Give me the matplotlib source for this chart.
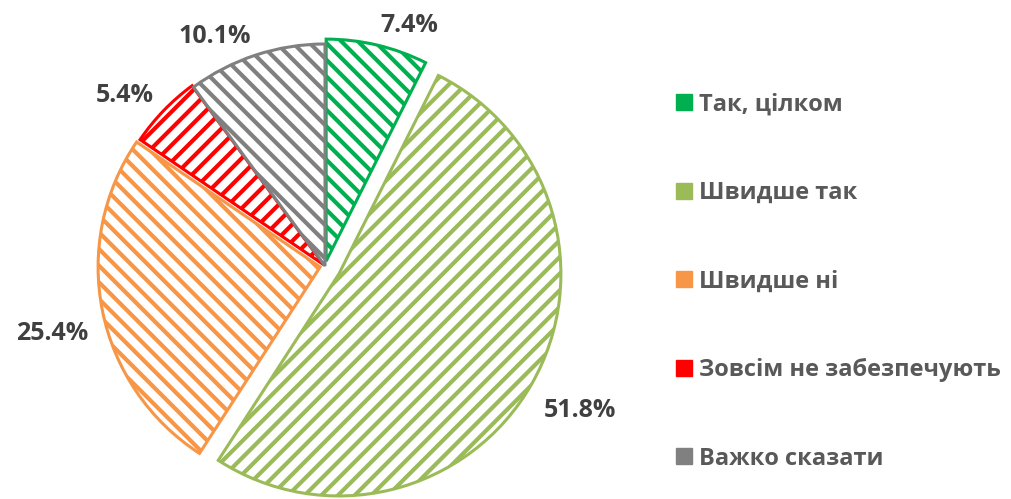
import numpy as np
import matplotlib
matplotlib.use("Agg")
import matplotlib.pyplot as plt

plt.rcParams["font.family"] = ["Open Sans", "DejaVu Sans"]
plt.rcParams["hatch.linewidth"] = 3.0

labels = ["Так, цілком", "Швидше так", "Швидше ні", "Зовсім не забезпечують", "Важко сказати"]
values = [7.4, 51.8, 25.4, 5.4, 10.1]
colors = ["#00B050", "#9BBB59", "#F79646", "#FF0000", "#808080"]
hatches = ["\\\\", "//", "\\\\", "//", "\\\\"]
explode_px = [5, 16, 5, 2, 0]

R = 222
C = (325, 233)

fig = plt.figure(figsize=(10.11, 4.99), dpi=100)
ax = fig.add_axes([0, 0, 1, 1])

wedges, _ = ax.pie(
    values, colors=colors, startangle=90, counterclock=False,
    center=C, radius=R, explode=explode_px, frame=True,
)
ax.set_xlim(0, 1011)
ax.set_ylim(0, 499)
ax.axis("off")

for w, c, h in zip(wedges, colors, hatches):
    w.set_facecolor("white")
    w.set_edgecolor(c)
    w.set_hatch(h)
    w.set_linewidth(2.2)

# percentage labels outside the arc
gap = 14
for w, v in zip(wedges, values):
    th = np.deg2rad((w.theta1 + w.theta2) / 2)
    cx, cy = w.center
    x = cx + (R + gap) * np.cos(th)
    y = cy + (R + gap) * np.sin(th) - 7
    ha = "left" if np.cos(th) > 0.15 else ("right" if np.cos(th) < -0.15 else "center")
    va = "bottom" if np.sin(th) > 0.15 else ("top" if np.sin(th) < -0.15 else "center")
    ax.text(x, y, f"{v:.1f}%", ha=ha, va=va, fontsize=18,
            fontweight="bold", color="#404040")

leg = ax.legend(
    wedges, labels, loc="upper left", bbox_to_anchor=(0.657, 0.838),
    frameon=False, fontsize=17, labelspacing=2.73, borderpad=0,
    handlelength=0.68, handleheight=0.68, handletextpad=0.3,
)
for t in leg.get_texts():
    t.set_color("#595959")
    t.set_fontweight("bold")
for hnd, c in zip(leg.legend_handles, colors):
    hnd.set_facecolor(c)
    hnd.set_edgecolor(c)
    hnd.set_hatch(None)
    hnd.set_linewidth(1.0)

fig.savefig("out.png", dpi=100)
